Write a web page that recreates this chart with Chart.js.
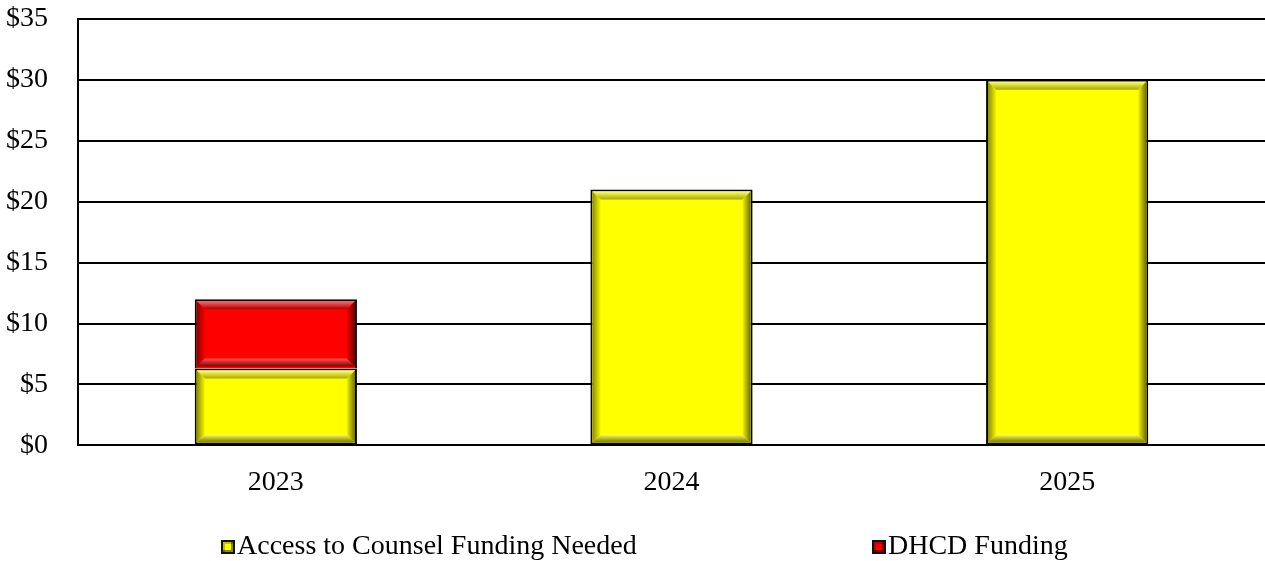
<!DOCTYPE html>
<html>
<head>
<meta charset="utf-8">
<script src="https://cdn.jsdelivr.net/npm/chart.js@4.4.1/dist/chart.umd.min.js"></script>
<style>
  html, body { margin: 0; padding: 0; background: #fff; }
  #chartBox { position: relative; width: 1265px; height: 561px; overflow: hidden; }
  #chartBox canvas { position: absolute; left: 0; top: -28px; }
  #legend { position: absolute; top: 528px; left: 0; width: 1265px; height: 34px;
            font: 28px 'Liberation Serif', 'Times New Roman', serif; color: #000; }
  .item { position: absolute; top: 0; white-space: nowrap; line-height: 34px; }
  .swatch { display: inline-block; width: 10px; height: 10px; border: 2px solid #111;
            margin-right: 2px; vertical-align: 0px;
            box-shadow: inset -2px -2px 0 rgba(0,0,0,0.45), inset 2px 2px 0 rgba(0,0,0,0.25); }
</style>
</head>
<body>
<div id="chartBox">
  <canvas id="fundingChart" width="1265" height="609"></canvas>
  <div id="legend"></div>
</div>
<script>
const years = ["2023", "2024", "2025"];
const counselNeeded = [6.3, 21, 30];
const dhcdFunding = [5.7, null, null];
const yMin = 0, yMax = 35, yStep = 5;

const YELLOW = "#ffff00";
const RED = "#ff0000";

// light/dark tones for the raised frame on each bar
const bevelTones = {
  [YELLOW]: { top: ["#ffff70", "#a8a800"], left: ["#8c8c00", "#f4f400"], bottom: ["#ffff50", "#7a7a00"], right: ["#f0f000", "#6e6e00"] },
  [RED]: { top: ["#ff7070", "#a80000"], left: ["#8c0000", "#f40000"], bottom: ["#ff5050", "#7a0000"], right: ["#f00000", "#6e0000"] }
};

function fillBand(ctx, pts, g) {
  ctx.beginPath();
  ctx.moveTo(pts[0][0], pts[0][1]);
  for (let k = 1; k < pts.length; k++) ctx.lineTo(pts[k][0], pts[k][1]);
  ctx.closePath();
  ctx.fillStyle = g;
  ctx.fill();
}

function grad(ctx, x0, y0, x1, y1, c0, c1) {
  const g = ctx.createLinearGradient(x0, y0, x1, y1);
  g.addColorStop(0, c0);
  g.addColorStop(1, c1);
  return g;
}

const bevelPlugin = {
  id: "bevel",
  afterDatasetsDraw(chart) {
    const ctx = chart.ctx;
    chart.data.datasets.forEach((ds, i) => {
      const tones = bevelTones[ds.backgroundColor];
      const meta = chart.getDatasetMeta(i);
      meta.data.forEach((bar, j) => {
        if (ds.data[j] == null) return;
        const p = bar.getProps(["x", "y", "base", "width"], true);
        const L = p.x - p.width / 2 + 2, R = p.x + p.width / 2 - 2;
        const T = Math.min(p.y, p.base) + 2, B = Math.max(p.y, p.base) - 2;
        const d = 8;
        ctx.save();
        fillBand(ctx, [[L, T], [R, T], [R - d, T + d], [L + d, T + d]], grad(ctx, 0, T, 0, T + d, tones.top[0], tones.top[1]));
        fillBand(ctx, [[L, T], [L + d, T + d], [L + d, B - d], [L, B]], grad(ctx, L, 0, L + d, 0, tones.left[0], tones.left[1]));
        fillBand(ctx, [[L, B], [L + d, B - d], [R - d, B - d], [R, B]], grad(ctx, 0, B - d, 0, B, tones.bottom[0], tones.bottom[1]));
        fillBand(ctx, [[R, T], [R, B], [R - d, B - d], [R - d, T + d]], grad(ctx, R - d, 0, R, 0, tones.right[0], tones.right[1]));
        ctx.restore();
      });
    });
  }
};

const serif = { family: "'Liberation Serif', 'Times New Roman', serif", size: 28 };

const chart = new Chart(document.getElementById("fundingChart"), {
  type: "bar",
  data: {
    labels: years,
    datasets: [
      {
        label: "Access to Counsel Funding Needed",
        data: counselNeeded,
        backgroundColor: YELLOW,
        borderColor: "#000",
        borderWidth: 2,
        borderSkipped: false
      },
      {
        label: "DHCD Funding",
        data: dhcdFunding,
        backgroundColor: RED,
        borderColor: "#000",
        borderWidth: 2,
        borderSkipped: "bottom"
      }
    ]
  },
  options: {
    responsive: false,
    animation: false,
    datasets: { bar: { barPercentage: 0.41, categoryPercentage: 1 } },
    layout: { padding: { top: 0, right: 0, left: 0, bottom: 62 } },
    scales: {
      x: {
        stacked: true,
        grid: { display: false, drawTicks: false },
        border: { color: "#000", width: 2 },
        ticks: { color: "#000", font: serif, padding: 20 }
      },
      y: {
        stacked: true,
        min: yMin,
        max: yMax,
        afterFit: (scale) => { scale.width = 78; },
        grid: { color: "#000", lineWidth: 2, drawTicks: false },
        border: { color: "#000", width: 2 },
        ticks: {
          stepSize: yStep,
          autoSkip: false,
          color: "#000",
          font: serif,
          padding: 30,
          callback: (v) => "$" + v
        }
      }
    },
    plugins: {
      tooltip: { enabled: false },
      legend: { display: false }
    }
  },
  plugins: [bevelPlugin]
});

// legend row under the plot, built from the dataset labels and colours
const legendLeft = [221, 872];
const legendEl = document.getElementById("legend");
chart.data.datasets.forEach((ds, i) => {
  const item = document.createElement("span");
  item.className = "item";
  item.style.left = legendLeft[i] + "px";
  const sw = document.createElement("span");
  sw.className = "swatch";
  sw.style.background = ds.backgroundColor;
  item.appendChild(sw);
  item.appendChild(document.createTextNode(ds.label));
  legendEl.appendChild(item);
});
</script>
</body>
</html>
